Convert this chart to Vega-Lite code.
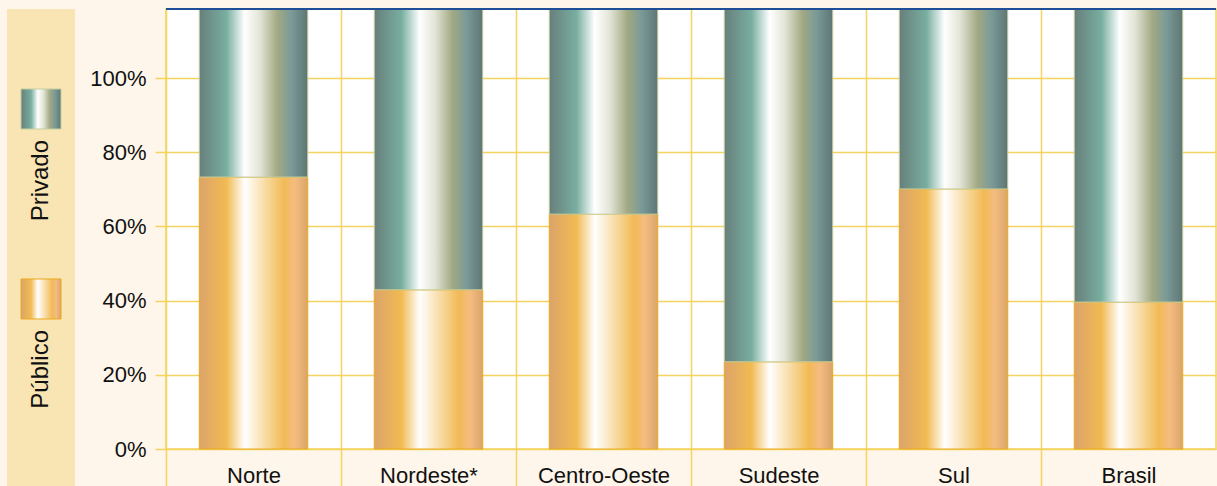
{
  "$schema": "https://vega.github.io/schema/vega-lite/v6.json",
  "padding": {"left": 7, "top": 7, "right": 1, "bottom": 0},
  "background": "#FEF6EA",
  "bounds": "flush",
  "spacing": 91,
  "config": {
    "font": "Liberation Sans",
    "view": {"stroke": null}
  },
  "hconcat": [
    {
      "width": 68,
      "height": 479,
      "view": {"fill": "#F9E4B3", "stroke": null},
      "data": {"values": [{"serie": "Privado"}, {"serie": "Público"}]},
      "layer": [
        {
          "mark": {"type": "point", "shape": "square", "size": 1600, "filled": true, "opacity": 1, "strokeWidth": 1},
          "encoding": {
            "y": {"field": "serie", "type": "nominal", "scale": {"type": "point", "domain": ["Privado", "Público"], "padding": 0.7605, "align": 0.346}, "axis": null},
            "fill": {
              "condition": {"test": "datum.serie === 'Privado'", "value": {"gradient": "linear", "x1": 0, "y1": 0, "x2": 1, "y2": 0, "stops": [{"offset": 0, "color": "#687F7C"}, {"offset": 0.25, "color": "#78AE9F"}, {"offset": 0.42, "color": "#FFFFFF"}, {"offset": 0.56, "color": "#E2E4D6"}, {"offset": 0.72, "color": "#A2A983"}, {"offset": 0.85, "color": "#7A9A98"}, {"offset": 1, "color": "#5E7673"}]}},
              "value": {"gradient": "linear", "x1": 0, "y1": 0, "x2": 1, "y2": 0, "stops": [{"offset": 0, "color": "#DBA46A"}, {"offset": 0.25, "color": "#F2BA52"}, {"offset": 0.42, "color": "#FFFFFF"}, {"offset": 0.6, "color": "#F8DDA8"}, {"offset": 0.78, "color": "#F2BA55"}, {"offset": 0.88, "color": "#F4BC80"}, {"offset": 1, "color": "#DAA46A"}]}
            },
            "stroke": {"condition": {"test": "datum.serie === 'Privado'", "value": "#C5CFA0"}, "value": "#EAAA1E"}
          }
        },
        {
          "mark": {"type": "text", "angle": 270, "align": "right", "baseline": "middle", "dx": -31, "fontSize": 24, "color": "#111111"},
          "encoding": {
            "y": {"field": "serie", "type": "nominal"},
            "text": {"field": "serie"}
          }
        }
      ]
    },
    {
      "width": 1050,
      "height": 440,
      "view": {"fill": "#FFFFFF", "stroke": "#F4D35E", "strokeWidth": 1.5},
      "data": {
        "values": [
          {"regiao": "Norte", "publico": 73.3, "privado": 26.7},
          {"regiao": "Nordeste*", "publico": 42.9, "privado": 57.1},
          {"regiao": "Centro-Oeste", "publico": 63.3, "privado": 36.7},
          {"regiao": "Sudeste", "publico": 23.5, "privado": 76.5},
          {"regiao": "Sul", "publico": 70.1, "privado": 29.9},
          {"regiao": "Brasil", "publico": 39.6, "privado": 60.4}
        ]
      },
      "layer": [
        {
          "mark": {"type": "bar", "strokeWidth": 1, "stroke": "#EAAA1E",
            "fill": {"gradient": "linear", "x1": 0, "y1": 0, "x2": 1, "y2": 0, "stops": [{"offset": 0, "color": "#DBA46A"}, {"offset": 0.25, "color": "#F2BA52"}, {"offset": 0.42, "color": "#FFFFFF"}, {"offset": 0.6, "color": "#F8DDA8"}, {"offset": 0.78, "color": "#F2BA55"}, {"offset": 0.88, "color": "#F4BC80"}, {"offset": 1, "color": "#DAA46A"}]}},
          "encoding": {
            "x": {
              "field": "regiao", "type": "nominal", "sort": null, "title": null,
              "scale": {"paddingInner": 0.38, "paddingOuter": 0.19},
              "axis": {
                "orient": "bottom", "domain": false, "grid": true, "bandPosition": 0, "tickOffset": -33.25, "labelOffset": 33.25,
                "gridColor": "#F4D35E", "gridWidth": 1.5, "gridOpacity": 1,
                "ticks": true, "tickSize": 39, "tickColor": "#F4D35E", "tickWidth": 1.5,
                "labelAngle": 0, "labelAlign": "center", "labelFontSize": 22, "labelColor": "#111111", "labelBaseline": "alphabetic", "labelPadding": -6
              }
            },
            "y": {
              "field": "publico", "type": "quantitative", "title": null,
              "scale": {"domain": [0, 118.6], "nice": false, "zero": true},
              "axis": {
                "values": [0, 20, 40, 60, 80, 100], "labelExpr": "datum.value + '%'",
                "domain": false, "grid": true, "gridColor": "#F4D35E", "gridWidth": 1.5, "gridOpacity": 1,
                "ticks": true, "tickSize": 11, "tickColor": "#F4D35E", "tickWidth": 1.5,
                "labelFontSize": 22, "labelColor": "#111111", "labelPadding": 9, "labelBaseline": "middle"
              }
            }
          }
        },
        {
          "mark": {"type": "bar", "strokeWidth": 1, "stroke": "#C5CFA0",
            "fill": {"gradient": "linear", "x1": 0, "y1": 0, "x2": 1, "y2": 0, "stops": [{"offset": 0, "color": "#687F7C"}, {"offset": 0.25, "color": "#78AE9F"}, {"offset": 0.42, "color": "#FFFFFF"}, {"offset": 0.56, "color": "#E2E4D6"}, {"offset": 0.72, "color": "#A2A983"}, {"offset": 0.85, "color": "#7A9A98"}, {"offset": 1, "color": "#5E7673"}]}},
          "encoding": {
            "x": {"field": "regiao", "type": "nominal", "sort": null},
            "y": {"field": "publico", "type": "quantitative"},
            "y2": {"datum": 118.6}
          }
        },
        {
          "mark": {"type": "rule", "stroke": "#1F4E99", "strokeWidth": 2},
          "encoding": {
            "y": {"datum": 118.6}
          }
        }
      ]
    }
  ]
}
